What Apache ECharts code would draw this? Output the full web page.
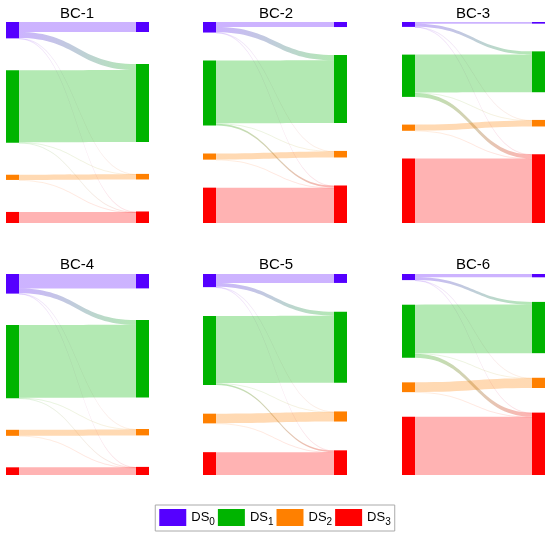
<!DOCTYPE html>
<html>
<head>
<meta charset="utf-8">
<script src="https://cdn.jsdelivr.net/npm/echarts@6/dist/echarts.min.js"></script>
<style>
html, body { margin: 0; padding: 0; background: #fff; }
#chart { width: 550px; height: 536px; }
</style>
</head>
<body>
<div id="chart"></div>
<script>
// damage states and panel names
var states = ['DS0', 'DS1', 'DS2', 'DS3'];
var titles = ['BC-1', 'BC-2', 'BC-3', 'BC-4', 'BC-5', 'BC-6'];

// transition shares (%) : row = state before, column = state after
var bc1 = [[9.5, 5.7, 0.15, 0.2], [0, 68.3, 0.25, 0.2], [0, 0, 4.9, 0.05], [0, 0, 0, 10.5]];
var bc2 = [[4.3, 4.4, 0.1, 0.2], [0, 53.6, 0.4, 1.5], [0, 0, 5.1, 0.15], [0, 0, 0, 30.2]];
var bc3 = [[1.4, 2.6, 0.05, 0.1], [0, 32.0, 0.4, 3.4], [0, 0, 5.1, 0.15], [0, 0, 0, 54.6]];
var bc4 = [[13.5, 4.6, 0.15, 0.15], [0, 68.2, 0.25, 0.2], [0, 0, 5.6, 0.05], [0, 0, 0, 7.2]];
var bc5 = [[7.8, 3.4, 0.1, 0.15], [0, 58.4, 0.4, 1.3], [0, 0, 8.3, 0.15], [0, 0, 0, 19.9]];
var bc6 = [[2.6, 2.1, 0.05, 0.05], [0, 38.2, 0.4, 3.1], [0, 0, 7.6, 0.1], [0, 0, 0, 45.8]];
var matrices = [bc1, bc2, bc3, bc4, bc5, bc6];

var colors = ['#5500ff', '#00b400', '#ff8000', '#ff0000'];

// panel placement
var colLeft = [6, 203, 402];
var colWidth = [143, 144, 143];
var rowTop = [22, 274];
var titleX = [77, 276, 473];
var titleY = [6, 257];
var gaps = [32, 28, 27.7, 31.5, 28.8, 24.6];

var chartDom = document.getElementById('chart');
var myChart = echarts.init(chartDom);

var series = [];
var title = [];

for (var p = 0; p < matrices.length; p++) {
    var m = matrices[p];
    var c = p % 3;
    var r = Math.floor(p / 3);
    var nodes = [];
    var links = [];
    for (var i = 0; i < states.length; i++) {
        nodes.push({ name: 'L' + i, itemStyle: { color: colors[i] } });
    }
    for (var j = 0; j < states.length; j++) {
        nodes.push({ name: 'R' + j, itemStyle: { color: colors[j] } });
    }
    for (var i = 0; i < m.length; i++) {
        for (var j = 0; j < m[i].length; j++) {
            if (m[i][j] > 0) {
                var link = { source: 'L' + i, target: 'R' + j, value: m[i][j] };
                // hairline flows are drawn fainter, as in the original
                if (m[i][j] < 0.5) {
                    link.lineStyle = { opacity: 0.12 };
                }
                links.push(link);
            }
        }
    }
    series.push({
        type: 'sankey',
        name: titles[p],
        left: colLeft[c],
        top: rowTop[r],
        width: colWidth[c],
        height: 201,
        nodeWidth: 13,
        nodeGap: gaps[p],
        layoutIterations: 0,
        draggable: false,
        silent: true,
        label: { show: false },
        itemStyle: { borderWidth: 0 },
        lineStyle: { color: 'gradient', opacity: 0.3, curveness: 0.5 },
        emphasis: { disabled: true },
        data: nodes,
        links: links
    });
    title.push({
        text: titles[p],
        left: titleX[c],
        top: titleY[r],
        textAlign: 'center',
        padding: 0,
        textStyle: { fontFamily: 'Liberation Sans', fontSize: 15, fontWeight: 'normal', color: '#000' }
    });
}

// empty series only to feed the legend
for (var k = 0; k < states.length; k++) {
    series.push({ type: 'line', name: states[k], data: [], color: colors[k] });
}

var option = {
    animation: false,
    title: title,
    grid: { left: 0, top: 0, width: 1, height: 1, show: false },
    xAxis: { type: 'value', show: false },
    yAxis: { type: 'value', show: false },
    legend: {
        data: states.map(function (s, k) { return { name: s, itemStyle: { color: colors[k] } }; }),
        left: 'center',
        top: 505,
        icon: 'rect',
        itemWidth: 27,
        itemHeight: 17,
        itemGap: 3,
        padding: [4, 4],
        borderColor: '#aaa',
        borderWidth: 1,
        selectedMode: false,
        formatter: function (name) {
            return 'DS{s|' + name.slice(2) + '}';
        },
        textStyle: {
            fontFamily: 'Liberation Sans',
            fontSize: 13,
            color: '#000',
            rich: {
                s: { fontFamily: 'Liberation Sans', fontSize: 10, color: '#000', padding: [9, 0, 0, 0] }
            }
        }
    },
    series: series
};

option && myChart.setOption(option);
</script>
</body>
</html>
